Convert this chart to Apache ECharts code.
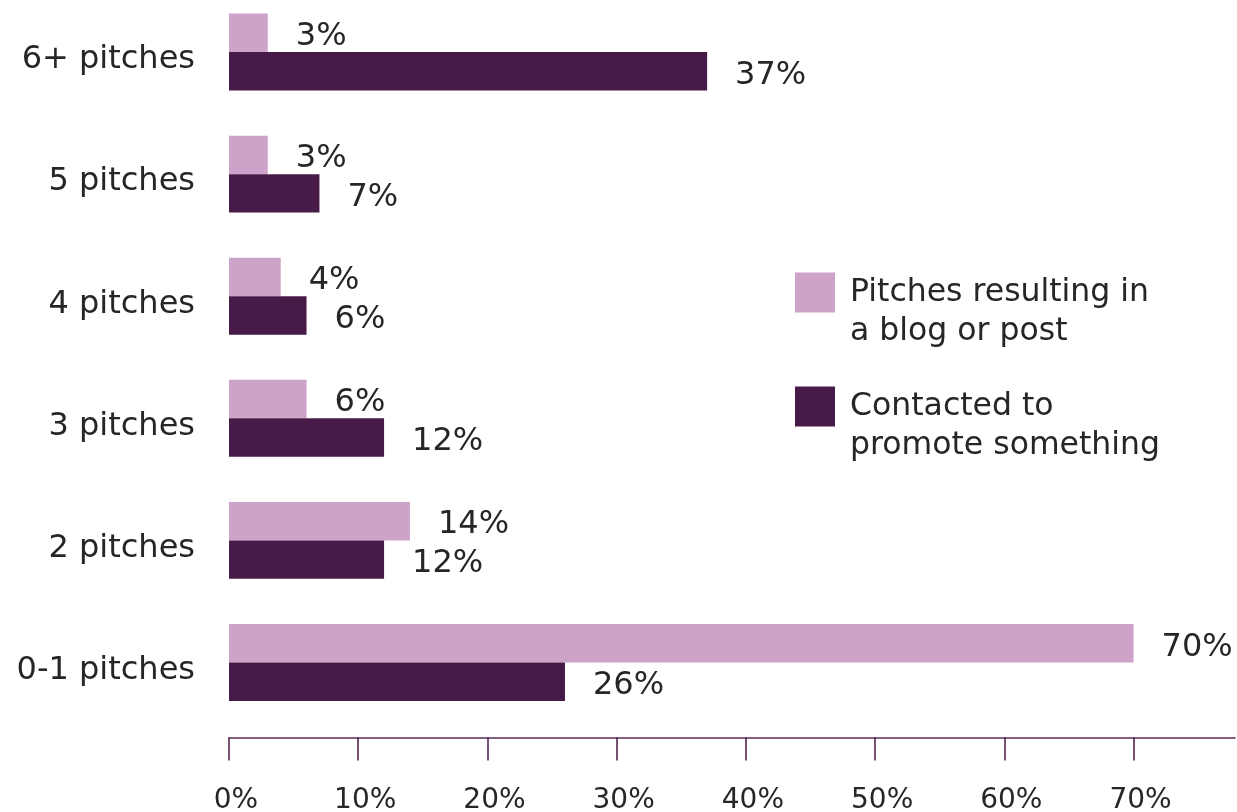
<!DOCTYPE html>
<html>
<head>
<meta charset="utf-8">
<title>Pitches</title>
<script src="https://cdn.jsdelivr.net/npm/echarts@6/dist/echarts.min.js"></script>
<style>
  html, body { margin: 0; padding: 0; background: #ffffff; }
  #chart { width: 1237px; height: 812px; }
</style>
</head>
<body>
<div id="chart"></div>
<script>
// Categories, top to bottom
const categories = ['6+ pitches', '5 pitches', '4 pitches', '3 pitches', '2 pitches', '0-1 pitches'];
// Share of respondents (%)
const blogOrPost = [3, 3, 4, 6, 14, 70];
const contactedToPromote = [37, 7, 6, 12, 12, 26];
// Axis tick values (%)
const xTicks = [0, 10, 20, 30, 40, 50, 60, 70];

const seriesNames = ['Pitches resulting in\na blog or post', 'Contacted to\npromote something'];
const PINK = '#cda3c9';
const PLUM = '#481a47';
const TEXT = '#262626';
const FONT = 'DejaVu Sans';

const chart = echarts.init(document.getElementById('chart'), null, { renderer: 'canvas' });

const valueLabel = {
  show: true,
  position: 'right',
  distance: 28,
  offset: [0, 4],
  formatter: '{c}%',
  color: TEXT,
  fontFamily: FONT,
  fontSize: 32
};

chart.setOption({
  backgroundColor: '#ffffff',
  animation: false,
  textStyle: { fontFamily: FONT },
  grid: {
    left: 229, right: 2, top: -9, bottom: 88.5,
    containLabel: false,
    outerBoundsMode: 'none'
  },
  legend: {
    orient: 'vertical',
    left: 795,
    top: 234,
    padding: 0,
    icon: 'rect',
    itemWidth: 40,
    itemHeight: 40,
    itemGap: -3,
    data: seriesNames,
    // a leading blank line keeps the first text line level with the swatch
    formatter: name => '\n' + name,
    textStyle: {
      color: TEXT,
      fontFamily: FONT,
      fontSize: 31.5,
      lineHeight: 39,
      padding: [0, 0, 0, 10]
    }
  },
  xAxis: {
    type: 'value',
    min: 0,
    max: 77.85,
    position: 'bottom',
    offset: 14,
    splitLine: { show: false },
    axisLine: { show: true, lineStyle: { color: '#5b2c57', width: 1.5 } },
    axisTick: {
      show: true,
      length: 23,
      customValues: xTicks,
      lineStyle: { color: '#4a1a47', width: 1.5 }
    },
    axisLabel: {
      customValues: xTicks,
      formatter: '{value}%',
      margin: 49,
      color: TEXT,
      fontFamily: FONT,
      fontSize: 28,
      padding: [0, 0, 0, 14]
    }
  },
  yAxis: {
    type: 'category',
    inverse: true,
    data: categories,
    axisLine: { show: false },
    axisTick: { show: false },
    splitLine: { show: false },
    axisLabel: {
      margin: 34,
      color: TEXT,
      fontFamily: FONT,
      fontSize: 32,
      // category names sit a little below the band centre
      formatter: v => '{c|' + v + '}',
      rich: {
        c: {
          color: TEXT,
          fontFamily: FONT,
          fontSize: 32,
          padding: [16, 0, 0, 0]
        }
      }
    }
  },
  series: [
    {
      name: seriesNames[0],
      type: 'bar',
      data: blogOrPost,
      itemStyle: { color: PINK },
      barGap: 0,
      barCategoryGap: '37%',
      label: valueLabel
    },
    {
      name: seriesNames[1],
      type: 'bar',
      data: contactedToPromote,
      itemStyle: { color: PLUM },
      barGap: 0,
      barCategoryGap: '37%',
      label: valueLabel
    }
  ]
});
</script>
</body>
</html>
